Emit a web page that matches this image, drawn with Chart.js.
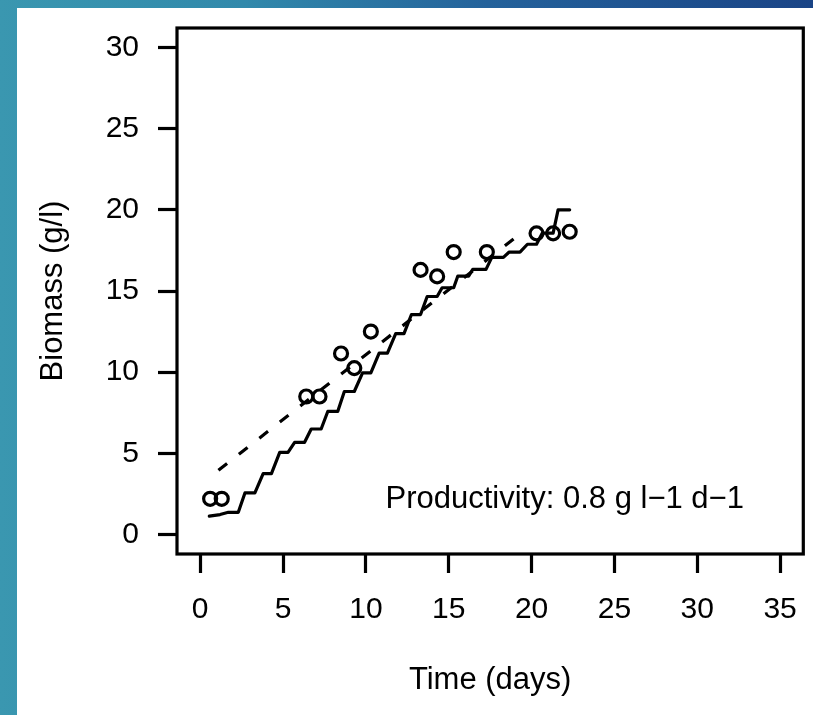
<!DOCTYPE html>
<html><head><meta charset="utf-8">
<script src="https://cdn.jsdelivr.net/npm/chart.js@4/dist/chart.umd.min.js"></script>
<style>
html,body{margin:0;padding:0;width:813px;height:715px;overflow:hidden;}
body{background:linear-gradient(to right,#3a97b0 0%,#3189ab 30%,#24629b 60%,#1a4486 100%);position:relative;}
#panel{position:absolute;left:17px;top:8px;width:796px;height:707px;background:#fff;}
canvas{display:block;}
</style></head><body>
<div id="panel"><canvas id="c" width="796" height="707"></canvas></div>
<script>
// ---- data ----
const xTicks = [0, 5, 10, 15, 20, 25, 30, 35];
const yTicks = [0, 5, 10, 15, 20, 25, 30];

const obsDays    = [0.6, 1.3, 6.4, 7.2, 8.5, 9.3, 10.3, 13.3, 14.3, 15.3, 17.3, 20.3, 21.3, 22.3];
const obsBiomass = [2.2, 2.2, 8.5, 8.5, 11.15, 10.25, 12.5, 16.3, 15.9, 17.4, 17.4, 18.55, 18.55, 18.65];

const modelDays    = [0.55, 1.2, 1.7, 2.3, 2.7, 3.3, 3.8, 4.3, 4.8, 5.3, 5.7, 6.3, 6.7, 7.3, 7.7, 8.3, 8.7, 9.3, 9.8, 10.3, 10.8, 11.3, 11.8, 12.3, 12.75, 13.3, 13.7, 14.3, 14.6, 15.3, 15.55, 16.2, 16.45, 17.25, 17.6, 18.3, 18.65, 19.3, 19.75, 20.3, 20.65, 21.3, 21.6, 22.3];
const modelBiomass = [1.13, 1.23, 1.37, 1.37, 2.56, 2.56, 3.75, 3.75, 5.06, 5.06, 5.68, 5.68, 6.5, 6.5, 7.58, 7.58, 8.81, 8.81, 9.96, 9.96, 11.17, 11.17, 12.37, 12.37, 13.55, 13.55, 14.66, 14.66, 15.2, 15.2, 15.92, 15.92, 16.33, 16.33, 17.07, 17.07, 17.4, 17.4, 17.88, 17.88, 18.57, 18.57, 20.0, 20.0];

const fitDays    = [1.1, 19.6];
const fitBiomass = [3.96, 18.76];

const xTitle = 'Time (days)';
const yTitle = 'Biomass (g/l)';
const noteText = 'Productivity: 0.8 g l\u22121 d\u22121';
const noteX = 22, noteY = 2.15;

// ---- chart ----
const FONT = "'Liberation Sans', Arial, Helvetica, sans-serif";
const LW = 3.2;
const toXY = (xs, ys) => xs.map((x, i) => ({x: x, y: ys[i]}));

const boxPlugin = {
  id: 'box',
  afterDraw(chart) {
    const {ctx, chartArea: a, scales} = chart;
    ctx.save();
    ctx.strokeStyle = '#000';
    ctx.lineWidth = LW;
    ctx.strokeRect(a.left, a.top, a.right - a.left, a.bottom - a.top);
    ctx.fillStyle = '#000';
    ctx.font = '31px ' + FONT;
    ctx.textAlign = 'center';
    ctx.textBaseline = 'middle';
    ctx.fillText(noteText, scales.x.getPixelForValue(noteX), scales.y.getPixelForValue(noteY));
    ctx.restore();
  }
};

const zeroPad = s => { s.paddingTop = 0; s.paddingBottom = 0; s.paddingLeft = 0; s.paddingRight = 0; };
const gridOpts = {display: true, drawOnChartArea: false, drawTicks: true, tickLength: 19, tickWidth: LW, tickColor: '#000', color: '#000'};

new Chart(document.getElementById('c'), {
  type: 'scatter',
  data: {
    datasets: [
      {data: toXY(modelDays, modelBiomass), showLine: true, borderColor: '#000', borderWidth: LW, pointRadius: 0, tension: 0, borderJoinStyle: 'round', borderCapStyle: 'round'},
      {data: toXY(fitDays, fitBiomass), showLine: true, borderColor: '#000', borderWidth: LW, borderDash: [11, 15], pointRadius: 0, borderCapStyle: 'butt'},
      {data: toXY(obsDays, obsBiomass), showLine: false, pointRadius: 6.5, pointHoverRadius: 6.5, pointBorderWidth: LW, pointBorderColor: '#000', pointBackgroundColor: 'rgba(0,0,0,0)'}
    ]
  },
  options: {
    responsive: false,
    devicePixelRatio: 1,
    animation: false,
    events: [],
    layout: {padding: {left: 0, top: 20, right: 7, bottom: 0}},
    plugins: {legend: {display: false}, tooltip: {enabled: false}},
    scales: {
      x: {
        type: 'linear', min: -1.4, max: 36.4,
        afterBuildTicks: s => { s.ticks = xTicks.map(v => ({value: v})); },
        afterFit: s => { s.height = 161; zeroPad(s); },
        grid: gridOpts,
        border: {display: false},
        ticks: {color: '#000', font: {family: FONT, size: 30}, padding: 19, maxRotation: 0, autoSkip: false},
        title: {display: true, text: xTitle, color: '#000', font: {family: FONT, size: 31}, padding: {top: 0, bottom: 16.4}}
      },
      y: {
        type: 'linear', min: -1.2, max: 31.2,
        afterBuildTicks: s => { s.ticks = yTicks.map(v => ({value: v})); },
        afterFit: s => { s.width = 160; zeroPad(s); },
        grid: gridOpts,
        border: {display: false},
        ticks: {color: '#000', font: {family: FONT, size: 30}, padding: 19, autoSkip: false},
        title: {display: true, text: yTitle, color: '#000', font: {family: FONT, size: 31}, padding: {top: 17.4, bottom: 0}}
      }
    }
  },
  plugins: [boxPlugin]
});
</script>
</body></html>
